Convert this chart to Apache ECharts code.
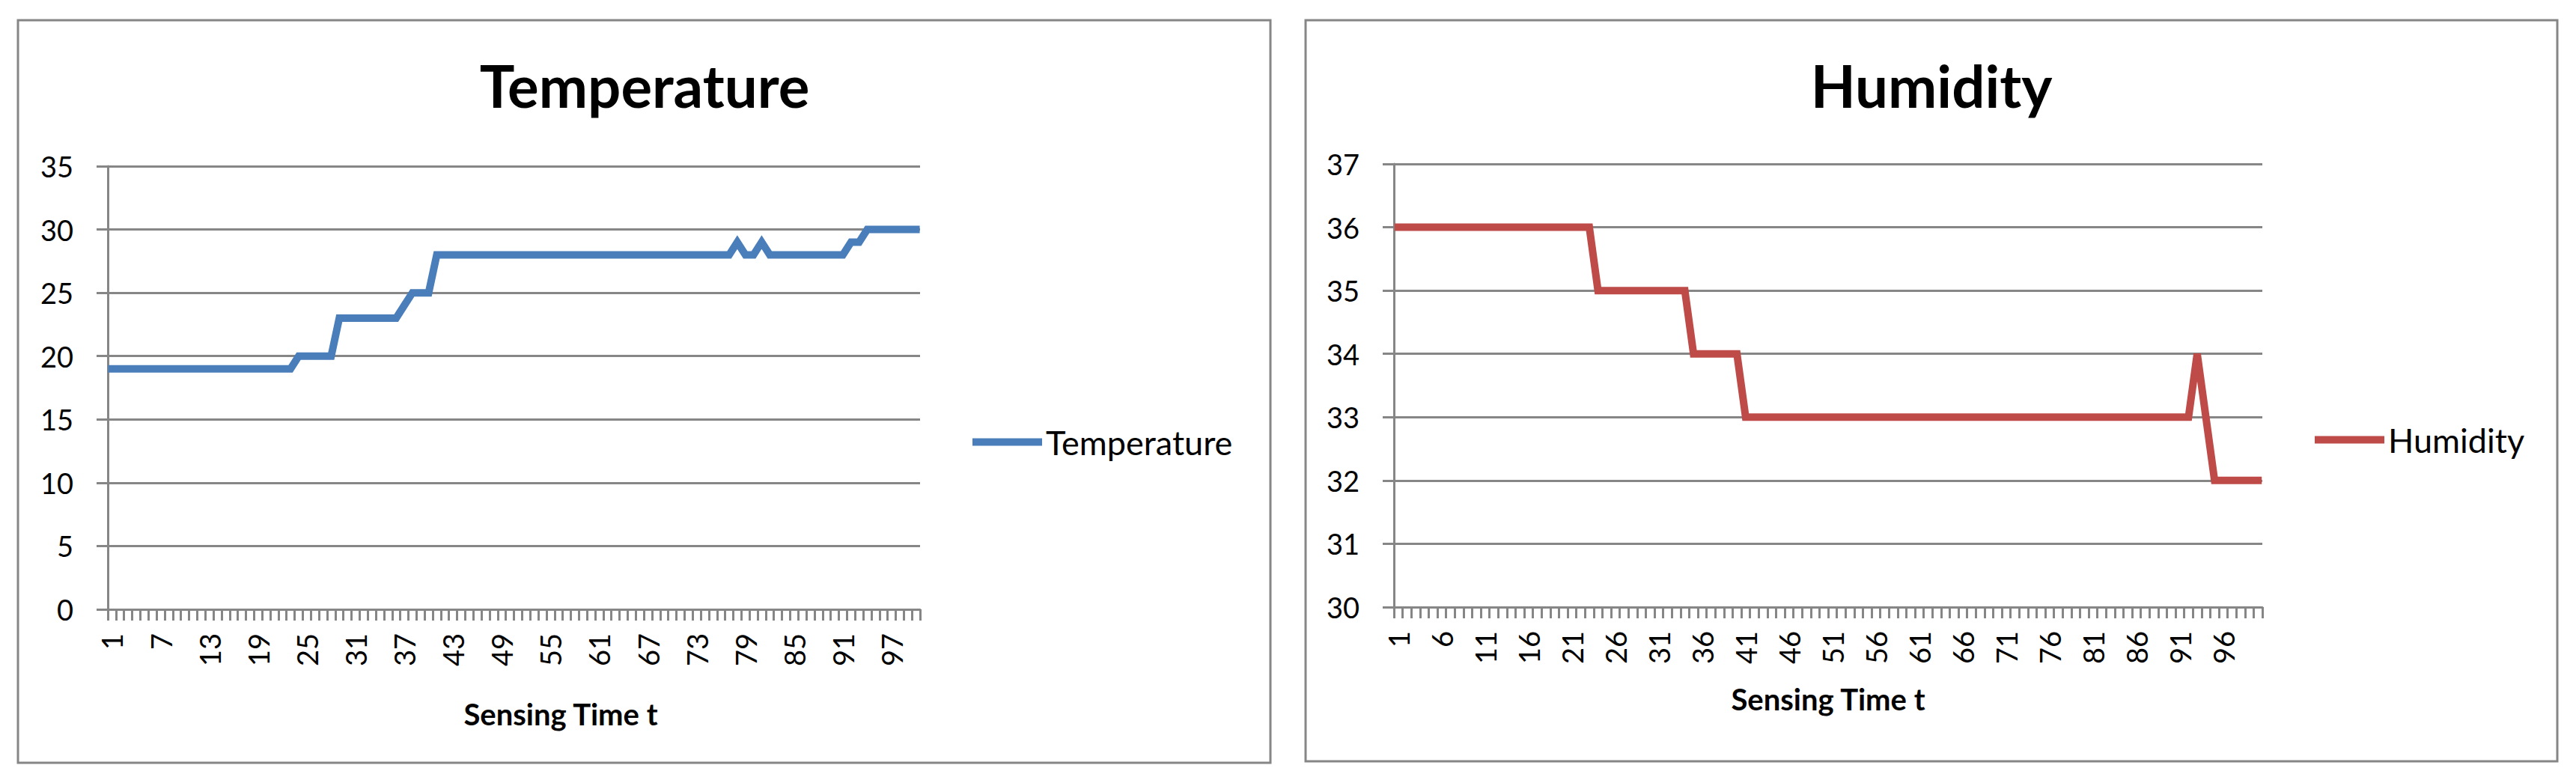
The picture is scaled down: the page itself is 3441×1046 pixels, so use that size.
<!DOCTYPE html>
<html>
<head>
<meta charset="utf-8">
<script src="https://cdn.jsdelivr.net/npm/echarts@6/dist/echarts.min.js"></script>
<style>
html,body{margin:0;padding:0;background:#fff;}
#c{width:3441px;height:1046px;}
</style>
</head>
<body>
<div id="c"></div>
<script>
// ---- data ----
const categories = [
  "1","2","3","4","5","6","7","8","9","10",
  "11","12","13","14","15","16","17","18","19","20",
  "21","22","23","24","25","26","27","28","29","30",
  "31","32","33","34","35","36","37","38","39","40",
  "41","42","43","44","45","46","47","48","49","50",
  "51","52","53","54","55","56","57","58","59","60",
  "61","62","63","64","65","66","67","68","69","70",
  "71","72","73","74","75","76","77","78","79","80",
  "81","82","83","84","85","86","87","88","89","90",
  "91","92","93","94","95","96","97","98","99","100"
];
const temperature = [
  19,19,19,19,19,19,19,19,19,19,
  19,19,19,19,19,19,19,19,19,19,
  19,19,19,20,20,20,20,20,23,23,
  23,23,23,23,23,23,24,25,25,25,
  28,28,28,28,28,28,28,28,28,28,
  28,28,28,28,28,28,28,28,28,28,
  28,28,28,28,28,28,28,28,28,28,
  28,28,28,28,28,28,28,29,28,28,
  29,28,28,28,28,28,28,28,28,28,
  28,29,29,30,30,30,30,30,30,30
];
const humidity = [
  36,36,36,36,36,36,36,36,36,36,
  36,36,36,36,36,36,36,36,36,36,
  36,36,36,35,35,35,35,35,35,35,
  35,35,35,35,34,34,34,34,34,34,
  33,33,33,33,33,33,33,33,33,33,
  33,33,33,33,33,33,33,33,33,33,
  33,33,33,33,33,33,33,33,33,33,
  33,33,33,33,33,33,33,33,33,33,
  33,33,33,33,33,33,33,33,33,33,
  33,33,34,33,32,32,32,32,32,32
];
const tempTicks = [0, 5, 10, 15, 20, 25, 30, 35];
const humTicks = [30, 31, 32, 33, 34, 35, 36, 37];
const seriesNames = ["Temperature", "Humidity"];
const chartTitles = ["Temperature", "Humidity"];
const xAxisTitle = "Sensing Time t";

// ---- style ----
const GRAY = '#868686';
const FONT = 'Lato, "Open Sans", "DejaVu Sans", sans-serif';
const COLORS = ['#4A7EBB', '#BE4B48'];

function xAxisCfg(gridIndex, labelInterval) {
  return {
    type: 'category', gridIndex: gridIndex, data: categories, boundaryGap: true,
    axisLine: {show: true, lineStyle: {color: GRAY, width: 3}},
    axisTick: {show: true, interval: 0, length: 15, lineStyle: {color: GRAY, width: 3}},
    axisLabel: {show: true, interval: labelInterval, rotate: 90, margin: 32, fontSize: 38,
                color: '#000', fontFamily: FONT},
    splitLine: {show: false}
  };
}
function yAxisCfg(gridIndex, ticks) {
  return {
    type: 'value', gridIndex: gridIndex,
    min: ticks[0], max: ticks[ticks.length - 1], interval: ticks[1] - ticks[0],
    axisLine: {show: true, lineStyle: {color: GRAY, width: 3}},
    axisTick: {show: true, length: 15, lineStyle: {color: GRAY, width: 3}},
    axisLabel: {show: true, margin: 46, fontSize: 38, color: '#000', fontFamily: FONT},
    splitLine: {show: true, lineStyle: {color: GRAY, width: 3}}
  };
}
function lineSeries(i, data) {
  return {
    name: seriesNames[i], type: 'line', xAxisIndex: i, yAxisIndex: i, data: data,
    showSymbol: false, symbol: 'none', color: COLORS[i],
    itemStyle: {color: COLORS[i]},
    lineStyle: {width: 10, color: COLORS[i], cap: 'square', join: 'miter', miterLimit: 2},
    emphasis: {disabled: true}
  };
}
function legendCfg(i, left, top) {
  return {
    data: [seriesNames[i]], left: left, top: top, padding: 0, orient: 'horizontal',
    itemWidth: 93, itemHeight: 10, icon: 'rect', selectedMode: false,
    textStyle: {fontSize: 45, color: '#000', fontFamily: FONT}
  };
}
function textEl(txt, x, y, size, bold) {
  return {
    type: 'text', x: x, y: y, silent: true,
    style: {text: txt, fontSize: size, fontWeight: bold ? 'bold' : 'normal', fontFamily: FONT,
            fill: '#000', align: 'center', verticalAlign: 'middle',
            textAlign: 'center', textVerticalAlign: 'middle'}
  };
}

const chart = echarts.init(document.getElementById('c'), null, {renderer: 'svg', width: 3441, height: 1046});
chart.setOption({
  animation: false,
  backgroundColor: '#fff',
  grid: [
    {left: 144, top: 222, width: 1085, height: 592},
    {left: 1862, top: 219, width: 1160, height: 592}
  ],
  xAxis: [xAxisCfg(0, 5), xAxisCfg(1, 4)],
  yAxis: [yAxisCfg(0, tempTicks), yAxisCfg(1, humTicks)],
  legend: [legendCfg(0, 1299, 568), legendCfg(1, 3092, 565)],
  series: [lineSeries(0, temperature), lineSeries(1, humidity)],
  graphic: [
    {type: 'rect', silent: true, shape: {x: 24, y: 27, width: 1673, height: 992},
     style: {fill: 'none', stroke: GRAY, lineWidth: 3}},
    {type: 'rect', silent: true, shape: {x: 1744, y: 27, width: 1672, height: 990},
     style: {fill: 'none', stroke: GRAY, lineWidth: 3}},
    textEl(chartTitles[0], 861, 114, 78, true),
    textEl(chartTitles[1], 2580, 114, 78, true),
    textEl(xAxisTitle, 749, 954, 40, true),
    textEl(xAxisTitle, 2442, 934, 40, true)
  ]
});
</script>
</body>
</html>
